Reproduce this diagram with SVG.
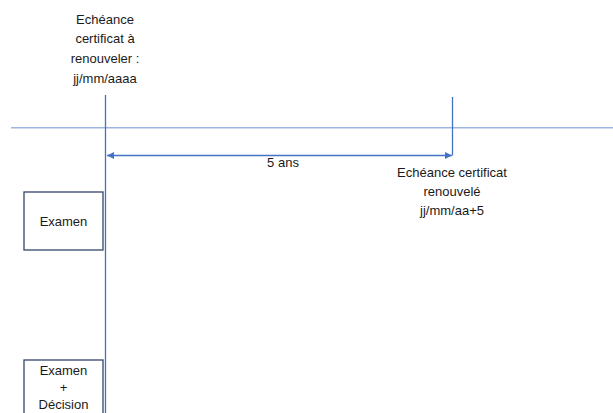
<svg xmlns="http://www.w3.org/2000/svg" width="613" height="413" viewBox="0 0 613 413">
<style>
text{font-family:"Liberation Sans",Arial,sans-serif;font-size:13px;fill:#1a1a1a;text-anchor:middle}
.box{fill:#fff;stroke:#34466b;stroke-width:1.3}
.axis{stroke:#9fb5e0;stroke-width:1.5;fill:none}
.tick{stroke:#4472c4;stroke-width:1.3;fill:none}
</style>
<defs>
<marker id="ah" viewBox="0 0 10 10" refX="10" refY="5" markerWidth="7" markerHeight="7" markerUnits="userSpaceOnUse" orient="auto-start-reverse">
<path d="M0,0 L10,5 L0,10 z" fill="#4472c4"/>
</marker>
</defs>
<rect width="613" height="413" fill="#fff"/>
<g id="connectors">
<line class="axis" x1="11" y1="127.7" x2="613" y2="127.7"/>
<line class="tick" x1="105.5" y1="95" x2="105.5" y2="413"/>
<line class="tick" x1="452.5" y1="97" x2="452.5" y2="155.5"/>
<line class="tick" x1="107" y1="155.5" x2="452" y2="155.5" marker-start="url(#ah)" marker-end="url(#ah)"/>
</g>
<g id="label-echeance">
<text x="105" y="23.5">Echéance</text>
<text x="105" y="43">certificat à</text>
<text x="105" y="63">renouveler :</text>
<text x="105" y="83">jj/mm/aaaa</text>
</g>
<g id="label-duree">
<text x="283" y="167">5 ans</text>
</g>
<g id="label-renouvele">
<text x="452" y="177">Echéance certificat</text>
<text x="452" y="196">renouvelé</text>
<text x="452" y="215">jj/mm/aa+5</text>
</g>
<g id="node-examen">
<rect class="box" x="24" y="192" width="79" height="58"/>
<text x="63.5" y="226">Examen</text>
</g>
<g id="node-examen-decision">
<rect class="box" x="24" y="360" width="79" height="60"/>
<text x="63.5" y="375">Examen</text>
<text x="63.5" y="392">+</text>
<text x="63.5" y="409">Décision</text>
</g>
</svg>
